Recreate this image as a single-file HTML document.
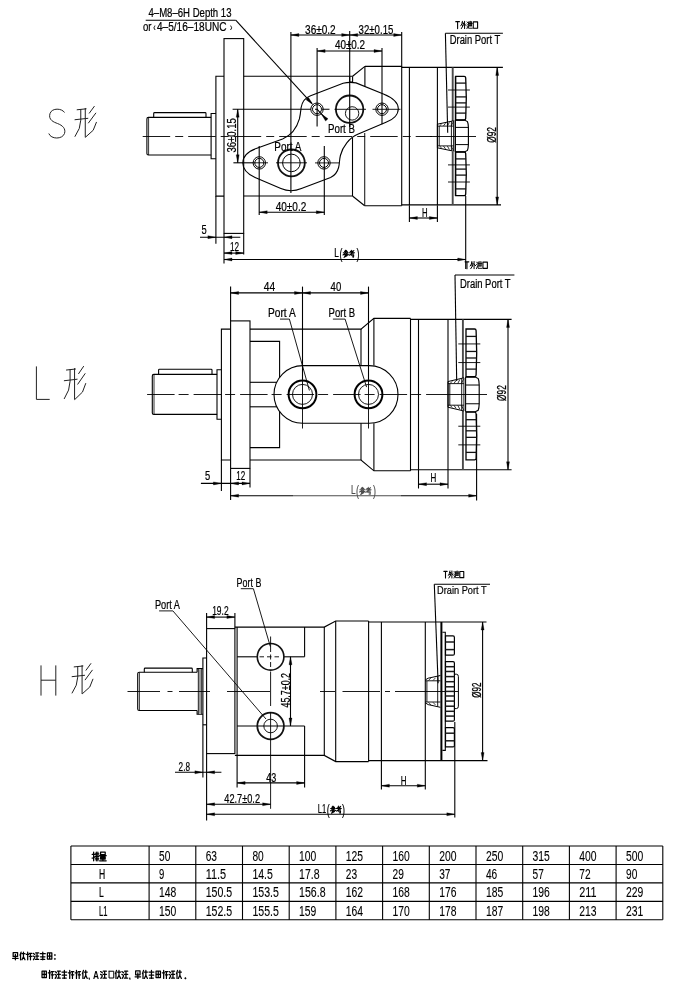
<!DOCTYPE html>
<html><head><meta charset="utf-8"><title>drawing</title>
<style>
html,body{margin:0;padding:0;background:#fff;}
body{width:700px;height:988px;overflow:hidden;}
svg{display:block;will-change:transform;filter:grayscale(1);font-family:"Liberation Sans",sans-serif;}
</style></head><body>
<svg width="700" height="988" viewBox="0 0 700 988" shape-rendering="geometricPrecision">
<rect x="0" y="0" width="700" height="988" fill="#fff"/>
<path d="M64.5 112.5 C62 108.3 52 107.5 50 113.5 C48 120 54 122.2 57.5 123.5 C62.5 125.4 66 128.5 64.5 133.5 C62.5 139.5 51 139.5 48.8 133.5" fill="none" stroke="#222" stroke-width="1" />
<path d="M77.14 109.77 L86.13 108.85 M75 119.71 L87.84 118.33 M80.78 109.46 L80.78 120.17 L79.28 128.43 L75 136.39 M85.27 108.39 L85.27 137 M94.26 106.4 L89.34 113.13 M95.76 113.13 L88.48 122.92 M96.4 122.31 L93.19 130.27 L85.7 137" fill="none" stroke="#222" stroke-width="1" stroke-linecap="round" stroke-linejoin="round"/>
<path d="M211.1 117.4 L148.4 117.4 Q146.9 117.4 146.9 118.9 L146.9 153.5 Q146.9 155.0 148.4 155.0 L211.1 155.0" fill="none" stroke="#000" stroke-width="1.1" />
<line x1="148.6" y1="117.4" x2="148.6" y2="155" stroke="#000" stroke-width="0.8"/>
<path d="M153.7 117.4 L153.7 113.4 Q153.7 112.6 154.6 112.6 L205.1 112.6 Q206 112.6 206 113.4 L206 117.4" fill="none" stroke="#000" stroke-width="1.1" />
<path d="M215.9 113.5 L211.1 113.5 L211.1 158.7 L215.9 158.7" fill="none" stroke="#000" stroke-width="1.1" />
<path d="M224 76.3 L215.9 76.3 L215.9 196.1 L224 196.1" fill="none" stroke="#000" stroke-width="1.1" />
<rect x="224" y="38.6" width="19.7" height="194.8" rx="0" fill="none" stroke="#000" stroke-width="1.1"/>
<line x1="243.7" y1="76.3" x2="352.6" y2="76.3" stroke="#000" stroke-width="1.1"/>
<line x1="243.7" y1="196" x2="352.5" y2="196" stroke="#000" stroke-width="1.1"/>
<path d="M349.7 76.3 L349.7 82 L352.6 82 L352.6 76.3" fill="none" stroke="#000" stroke-width="1.1" />
<line x1="352.6" y1="76.3" x2="364.9" y2="66.4" stroke="#000" stroke-width="1.1"/>
<line x1="364.9" y1="66.4" x2="401.7" y2="66.4" stroke="#000" stroke-width="1.1"/>
<line x1="401.7" y1="67.4" x2="502.9" y2="67.4" stroke="#000" stroke-width="1.1"/>
<line x1="364.9" y1="66.4" x2="364.9" y2="86.4" stroke="#000" stroke-width="1.1"/>
<line x1="352.5" y1="196" x2="364.7" y2="205.7" stroke="#000" stroke-width="1.1"/>
<line x1="352.5" y1="137.6" x2="352.5" y2="196" stroke="#000" stroke-width="1.1"/>
<line x1="364.7" y1="133" x2="364.7" y2="205.7" stroke="#222" stroke-width="1.1"/>
<line x1="364.7" y1="205.7" x2="401.7" y2="205.7" stroke="#000" stroke-width="1.1"/>
<line x1="401.7" y1="204.9" x2="501" y2="204.9" stroke="#000" stroke-width="1.1"/>
<line x1="401.7" y1="66.4" x2="401.7" y2="205.7" stroke="#000" stroke-width="1.1"/>
<line x1="409.4" y1="67.4" x2="409.4" y2="204.9" stroke="#000" stroke-width="1.1"/>
<line x1="437.4" y1="67.4" x2="437.4" y2="204.9" stroke="#000" stroke-width="1.1"/>
<line x1="452.7" y1="67.4" x2="452.7" y2="121" stroke="#4a4a4a" stroke-width="1.9"/>
<line x1="452.7" y1="151.6" x2="452.7" y2="204.9" stroke="#4a4a4a" stroke-width="1.9"/>
<line x1="455.3" y1="76.3" x2="455.3" y2="196" stroke="#000" stroke-width="1"/>
<line x1="142.7" y1="136.5" x2="432" y2="136.5" stroke="#000" stroke-width="0.9" stroke-dasharray="27.5 5 8 5"/>
<line x1="430" y1="136.5" x2="476" y2="136.5" stroke="#000" stroke-width="0.9"/>
<path d="M343.1 83.2 Q349.5 81.8 356 82.9 L383.4 94 C392 97.5 398.3 102 398.3 108.6 C398.3 115 393 120 386 122.3 L357.7 134.3 C349.5 137.8 342.6 146.5 340.4 155.5 C339.2 160.5 339.6 164 338.6 167.5 C337.4 172 334.8 175.6 330.6 177.4 L301.4 188.6 Q291.1 193 280.9 188.6 L255.1 177.4 C247.5 174 242.8 169 242.8 162.9 C242.8 156 248.5 151.2 256.9 148.3 L282.6 138.9 C291 135.5 296.5 129 299.4 118.9 C300.5 114 300.7 111 301.1 107.7 C302 101.5 305 97.8 310.6 95.7 Z" fill="none" stroke="#000" stroke-width="1.1" />
<circle cx="317" cy="109.2" r="6.2" fill="none" stroke="#000" stroke-width="1"/>
<circle cx="317" cy="109.2" r="4.5" fill="none" stroke="#000" stroke-width="1"/>
<circle cx="382" cy="109.2" r="6.2" fill="none" stroke="#000" stroke-width="1"/>
<circle cx="382" cy="109.2" r="4.5" fill="none" stroke="#000" stroke-width="1"/>
<circle cx="259.3" cy="162.9" r="6.2" fill="none" stroke="#000" stroke-width="1"/>
<circle cx="259.3" cy="162.9" r="4.5" fill="none" stroke="#000" stroke-width="1"/>
<circle cx="324" cy="162.9" r="6.2" fill="none" stroke="#000" stroke-width="1"/>
<circle cx="324" cy="162.9" r="4.5" fill="none" stroke="#000" stroke-width="1"/>
<circle cx="349.6" cy="109.2" r="13.7" fill="none" stroke="#111" stroke-width="1.8"/>
<circle cx="352.1" cy="113.4" r="6.7" fill="none" stroke="#000" stroke-width="0.9"/>
<circle cx="291.4" cy="162.9" r="13.4" fill="none" stroke="#111" stroke-width="1.8"/>
<circle cx="291.4" cy="162.9" r="8.8" fill="none" stroke="#000" stroke-width="1"/>
<line x1="232.6" y1="109.3" x2="302" y2="109.3" stroke="#000" stroke-width="1.1"/>
<line x1="302" y1="109.3" x2="329.5" y2="109.3" stroke="#000" stroke-width="1.1" stroke-dasharray="9 4 3 4"/>
<line x1="334.5" y1="109.3" x2="366" y2="109.3" stroke="#000" stroke-width="0.9"/>
<line x1="372.5" y1="109.3" x2="400.5" y2="109.3" stroke="#000" stroke-width="0.9"/>
<line x1="233.4" y1="162.8" x2="253" y2="162.8" stroke="#000" stroke-width="1.1"/>
<line x1="253" y1="162.8" x2="268" y2="162.8" stroke="#000" stroke-width="0.9"/>
<line x1="276" y1="162.8" x2="307" y2="162.8" stroke="#000" stroke-width="0.9"/>
<line x1="315" y1="162.9" x2="339.2" y2="162.9" stroke="#000" stroke-width="0.9"/>
<line x1="290.9" y1="32" x2="290.9" y2="193" stroke="#000" stroke-width="1.1"/>
<line x1="349.7" y1="31" x2="349.7" y2="127" stroke="#000" stroke-width="1.1"/>
<line x1="401.7" y1="32" x2="401.7" y2="67.2" stroke="#000" stroke-width="1.1"/>
<line x1="290.9" y1="35" x2="401.7" y2="35" stroke="#000" stroke-width="1.1"/>
<path d="M290.9 35 L298.9 33.5 L298.9 36.5 Z" fill="#000" stroke="#000" stroke-width="0.3"/>
<path d="M349.7 35 L341.7 36.5 L341.7 33.5 Z" fill="#000" stroke="#000" stroke-width="0.3"/>
<path d="M349.7 35 L357.7 33.5 L357.7 36.5 Z" fill="#000" stroke="#000" stroke-width="0.3"/>
<path d="M401.7 35 L393.7 36.5 L393.7 33.5 Z" fill="#000" stroke="#000" stroke-width="0.3"/>
<text x="305.1" y="33.6" font-size="12.2" textLength="30.6" lengthAdjust="spacingAndGlyphs" stroke="#000" stroke-width="0.22">36±0.2</text>
<text x="358.6" y="33.6" font-size="12.2" textLength="34.8" lengthAdjust="spacingAndGlyphs" stroke="#000" stroke-width="0.22">32±0.15</text>
<line x1="317.1" y1="48" x2="317.1" y2="126.4" stroke="#000" stroke-width="1.1"/>
<line x1="382" y1="48" x2="382" y2="124.3" stroke="#000" stroke-width="1.1"/>
<line x1="317.1" y1="51" x2="382" y2="51" stroke="#000" stroke-width="1.1"/>
<path d="M317.1 51 L325.1 49.5 L325.1 52.5 Z" fill="#000" stroke="#000" stroke-width="0.3"/>
<path d="M382 51 L374 52.5 L374 49.5 Z" fill="#000" stroke="#000" stroke-width="0.3"/>
<text x="334.9" y="49.2" font-size="12.2" textLength="30.2" lengthAdjust="spacingAndGlyphs" stroke="#000" stroke-width="0.22">40±0.2</text>
<line x1="237.7" y1="109.2" x2="237.7" y2="162.8" stroke="#000" stroke-width="1.1"/>
<path d="M237.7 109.2 L239.2 117.2 L236.2 117.2 Z" fill="#000" stroke="#000" stroke-width="0.3"/>
<path d="M237.7 162.8 L236.2 154.8 L239.2 154.8 Z" fill="#000" stroke="#000" stroke-width="0.3"/>
<text x="235.8" y="152.6" font-size="12.2" textLength="34.5" lengthAdjust="spacingAndGlyphs" transform="rotate(-90 235.8 152.6)" stroke="#000" stroke-width="0.22">36±0.15</text>
<line x1="259.2" y1="146" x2="259.2" y2="215" stroke="#000" stroke-width="1.1"/>
<line x1="324.3" y1="146" x2="324.3" y2="215" stroke="#000" stroke-width="1.1"/>
<line x1="259.2" y1="212.2" x2="324.3" y2="212.2" stroke="#000" stroke-width="1.1"/>
<path d="M259.2 212.2 L267.2 210.7 L267.2 213.7 Z" fill="#000" stroke="#000" stroke-width="0.3"/>
<path d="M324.3 212.2 L316.3 213.7 L316.3 210.7 Z" fill="#000" stroke="#000" stroke-width="0.3"/>
<text x="275.7" y="211.4" font-size="12.2" textLength="30.6" lengthAdjust="spacingAndGlyphs" stroke="#000" stroke-width="0.22">40±0.2</text>
<line x1="215.9" y1="196.1" x2="215.9" y2="243.7" stroke="#000" stroke-width="1.1"/>
<line x1="224" y1="233.4" x2="224" y2="263.4" stroke="#000" stroke-width="1.1"/>
<line x1="243.7" y1="233.4" x2="243.7" y2="254.5" stroke="#000" stroke-width="1.1"/>
<line x1="200" y1="237.2" x2="240.3" y2="237.2" stroke="#000" stroke-width="1.1"/>
<path d="M215.9 237.2 L207.9 238.7 L207.9 235.7 Z" fill="#000" stroke="#000" stroke-width="0.3"/>
<path d="M224 237.2 L232 235.7 L232 238.7 Z" fill="#000" stroke="#000" stroke-width="0.3"/>
<text x="201.4" y="234.3" font-size="12.2" textLength="5.2" lengthAdjust="spacingAndGlyphs" stroke="#000" stroke-width="0.22">5</text>
<line x1="224" y1="253.1" x2="243.7" y2="253.1" stroke="#000" stroke-width="1.1"/>
<path d="M224 253.1 L232 251.6 L232 254.6 Z" fill="#000" stroke="#000" stroke-width="0.3"/>
<path d="M243.7 253.1 L235.7 254.6 L235.7 251.6 Z" fill="#000" stroke="#000" stroke-width="0.3"/>
<text x="230" y="250.6" font-size="12.2" textLength="9.1" lengthAdjust="spacingAndGlyphs" stroke="#000" stroke-width="0.22">12</text>
<line x1="224" y1="259.5" x2="465.7" y2="259.5" stroke="#000" stroke-width="1.1"/>
<path d="M224 259.5 L232 258 L232 261 Z" fill="#000" stroke="#000" stroke-width="0.3"/>
<path d="M465.7 259.5 L457.7 261 L457.7 258 Z" fill="#000" stroke="#000" stroke-width="0.3"/>
<line x1="465.7" y1="196" x2="465.7" y2="269" stroke="#000" stroke-width="1.1"/>
<text x="334.3" y="257.3" font-size="12.2" textLength="4.6" lengthAdjust="spacingAndGlyphs" stroke="#000" stroke-width="0.22">L</text>
<text x="339.4" y="258.6" font-size="14" textLength="3" lengthAdjust="spacingAndGlyphs" stroke="#000" stroke-width="0.22">(</text>
<path d="M345.73 250.2 L344.53 251.5 L346.93 251.35 M346.38 250.63 L347.36 251.78 M343.27 252.65 L348.18 252.65 M345.84 251.64 L344.64 253.8 L343 254.95 M345.84 252.65 L347.25 254.09 L348.45 254.66 M346.38 253.66 L344.85 254.81 M346.82 254.66 L344.64 256.1 M347.36 255.53 L344.09 257.4" fill="none" stroke="#000" stroke-width="1.05" stroke-linecap="round" stroke-linejoin="round"/>
<path d="M350.24 251.35 L353.07 251.35 M351.66 250.2 L351.66 252.65 M349.26 252.65 L354.49 252.65 M353.84 250.49 L351.11 253.94 L349.26 255.24 M351.11 253.94 L353.73 253.94 M351.33 253.94 L351.11 255.24 L353.73 255.24 L353.51 257.26 L352.42 256.82" fill="none" stroke="#000" stroke-width="1.05" stroke-linecap="round" stroke-linejoin="round"/>
<text x="356.4" y="258.6" font-size="14" textLength="3" lengthAdjust="spacingAndGlyphs" stroke="#000" stroke-width="0.22">)</text>
<line x1="409.4" y1="205.2" x2="409.4" y2="222" stroke="#000" stroke-width="1.1"/>
<line x1="437.4" y1="205.2" x2="437.4" y2="222" stroke="#000" stroke-width="1.1"/>
<line x1="409.4" y1="218" x2="437.4" y2="218" stroke="#000" stroke-width="1.1"/>
<path d="M409.4 218 L417.4 216.5 L417.4 219.5 Z" fill="#000" stroke="#000" stroke-width="0.3"/>
<path d="M437.4 218 L429.4 219.5 L429.4 216.5 Z" fill="#000" stroke="#000" stroke-width="0.3"/>
<text x="422" y="216.6" font-size="12.2" textLength="5.6" lengthAdjust="spacingAndGlyphs" stroke="#000" stroke-width="0.22">H</text>
<line x1="497.2" y1="67.4" x2="497.2" y2="204.9" stroke="#000" stroke-width="1.1"/>
<path d="M497.2 67.4 L498.7 75.4 L495.7 75.4 Z" fill="#000" stroke="#000" stroke-width="0.3"/>
<path d="M497.2 204.9 L495.7 196.9 L498.7 196.9 Z" fill="#000" stroke="#000" stroke-width="0.3"/>
<text x="496.4" y="142.8" font-size="12" textLength="15.8" lengthAdjust="spacingAndGlyphs" transform="rotate(-90 496.4 142.8)" stroke="#000" stroke-width="0.3">Ø92</text>
<text x="148.5" y="17.2" font-size="12" textLength="83" lengthAdjust="spacingAndGlyphs" stroke="#000" stroke-width="0.22">4–M8–6H Depth 13</text>
<text x="143" y="31" font-size="12.2" textLength="8.5" lengthAdjust="spacingAndGlyphs" stroke="#000" stroke-width="0.22">or</text>
<text x="153.3" y="30.5" font-size="10" textLength="2.4" lengthAdjust="spacingAndGlyphs" stroke="#000" stroke-width="0.22">‹</text>
<text x="157" y="31" font-size="12.2" textLength="69.5" lengthAdjust="spacingAndGlyphs" stroke="#000" stroke-width="0.22">4–5/16–18UNC</text>
<text x="230" y="30.5" font-size="10" textLength="2.4" lengthAdjust="spacingAndGlyphs" stroke="#000" stroke-width="0.22">›</text>
<line x1="145.7" y1="20.2" x2="235.7" y2="20.2" stroke="#000" stroke-width="1.1"/>
<line x1="235.7" y1="20.2" x2="311.8" y2="103.4" stroke="#000" stroke-width="1.1"/>
<path d="M313 104.8 L306.01 99.67 L308.52 97.38 Z" fill="#000" stroke="#000" stroke-width="0.3"/>
<line x1="317" y1="109.2" x2="326.8" y2="119.9" stroke="#000" stroke-width="1.1"/>
<path d="M321.4 114 L328.05 118.76 L325.54 121.05 Z" fill="#000" stroke="#000" stroke-width="0.3"/>
<text x="328" y="132.6" font-size="12.5" textLength="27" lengthAdjust="spacingAndGlyphs" stroke="#000" stroke-width="0.22">Port B</text>
<text x="274.3" y="151.2" font-size="12.5" textLength="27.1" lengthAdjust="spacingAndGlyphs" stroke="#000" stroke-width="0.22">Port A</text>
<path d="M455.76 21.66 L459.44 21.66 M457.6 21.66 L457.6 28.6" fill="none" stroke="#000" stroke-width="1.1" stroke-linecap="round" stroke-linejoin="round"/>
<path d="M462.4 21.3 L461.96 23.86 L460.76 25.83 M462.13 22.91 L463.6 22.91 L462.95 25.83 L461.31 28.6 M461.75 24.59 L462.84 25.68 M464.59 21.3 L464.59 28.6 M464.59 24.22 L466.22 25.53" fill="none" stroke="#000" stroke-width="1" stroke-linecap="round" stroke-linejoin="round"/>
<path d="M467.07 21.88 L467.78 22.76 M466.8 24.07 L467.56 24.8 M466.91 28.6 L467.89 26.12 M468.44 23.49 L472.26 23.49 M469.31 21.66 L469.31 25.83 M470.41 21.3 L470.41 25.83 M471.5 21.66 L471.5 25.83 M469.31 25.83 L471.5 25.83 M468.44 22.03 L468.44 28.23 L472.26 28.23" fill="none" stroke="#000" stroke-width="0.9" stroke-linecap="round" stroke-linejoin="round"/>
<path d="M473.25 21.88 L477.6 21.88 L477.6 28.23 L473.25 28.23 L473.25 21.88" fill="none" stroke="#000" stroke-width="1.1" stroke-linecap="round" stroke-linejoin="round"/>
<line x1="445.4" y1="33.2" x2="502.9" y2="33.2" stroke="#000" stroke-width="1.1"/>
<line x1="445.4" y1="33.2" x2="447.7" y2="132.8" stroke="#000" stroke-width="1.1"/>
<text x="449.7" y="43.6" font-size="12" textLength="50.6" lengthAdjust="spacingAndGlyphs" stroke="#000" stroke-width="0.22">Drain Port T</text>
<path d="M455.7 76.3 L464.2 76.3 Q465.6 76.3 465.7 77.9 Q466.9 98.15 465.7 118.4 Q465.6 120 464.2 120 L455.7 120 Z" fill="none" stroke="#000" stroke-width="1.3" />
<line x1="455.7" y1="83.1" x2="466.1" y2="83.1" stroke="#111" stroke-width="1.3"/>
<line x1="455.7" y1="96.9" x2="466.1" y2="96.9" stroke="#111" stroke-width="1.3"/>
<line x1="455.7" y1="102.9" x2="466.1" y2="102.9" stroke="#111" stroke-width="1.3"/>
<line x1="455.7" y1="113.1" x2="466.1" y2="113.1" stroke="#111" stroke-width="1.3"/>
<line x1="448" y1="90" x2="469.9" y2="90" stroke="#000" stroke-width="0.9"/>
<line x1="448" y1="107.1" x2="469.9" y2="107.1" stroke="#000" stroke-width="0.9"/>
<path d="M455.7 152 L464.2 152 Q465.6 152 465.7 153.6 Q466.9 173.85 465.7 194.1 Q465.6 195.7 464.2 195.7 L455.7 195.7 Z" fill="none" stroke="#000" stroke-width="1.3" />
<line x1="455.7" y1="188.9" x2="466.1" y2="188.9" stroke="#111" stroke-width="1.3"/>
<line x1="455.7" y1="175.1" x2="466.1" y2="175.1" stroke="#111" stroke-width="1.3"/>
<line x1="455.7" y1="169.1" x2="466.1" y2="169.1" stroke="#111" stroke-width="1.3"/>
<line x1="455.7" y1="158.9" x2="466.1" y2="158.9" stroke="#111" stroke-width="1.3"/>
<line x1="448" y1="182" x2="469.9" y2="182" stroke="#000" stroke-width="0.9"/>
<line x1="448" y1="164.9" x2="469.9" y2="164.9" stroke="#000" stroke-width="0.9"/>
<path d="M455.3 120.1 L464.5 120.1 L467.4 121.6 Q468.3 123.6 468.4 127.4 L468.4 144.6 Q468.3 148.4 467.4 150.4 L464.5 151.9 L455.3 151.9" fill="none" stroke="#000" stroke-width="1.15" />
<line x1="455.3" y1="120.1" x2="455.3" y2="151.9" stroke="#000" stroke-width="1.1"/>
<line x1="455.3" y1="127.4" x2="468.4" y2="127.4" stroke="#000" stroke-width="1"/>
<line x1="455.3" y1="144.6" x2="468.4" y2="144.6" stroke="#000" stroke-width="1"/>
<path d="M437.4 124.2 L453.6 120.8" fill="none" stroke="#000" stroke-width="1" />
<path d="M437.4 147.8 L453.6 151.2" fill="none" stroke="#000" stroke-width="1" />
<line x1="437.4" y1="124.2" x2="437.4" y2="147.8" stroke="#000" stroke-width="1"/>
<line x1="437.4" y1="126.1" x2="453.6" y2="126.1" stroke="#000" stroke-width="0.9"/>
<line x1="437.4" y1="145.9" x2="453.6" y2="145.9" stroke="#000" stroke-width="0.9"/>
<line x1="439.2" y1="126.1" x2="439.2" y2="145.9" stroke="#000" stroke-width="0.9"/>
<line x1="451.4" y1="121.2" x2="451.4" y2="150.8" stroke="#000" stroke-width="0.9"/>
<line x1="453.6" y1="120.8" x2="453.6" y2="151.2" stroke="#000" stroke-width="0.9"/>
<line x1="439.6" y1="125.9" x2="441.6" y2="124.04" stroke="#000" stroke-width="0.8"/>
<line x1="439.6" y1="146.1" x2="441.6" y2="147.96" stroke="#000" stroke-width="0.8"/>
<line x1="443.5" y1="125.9" x2="445.5" y2="123.22" stroke="#000" stroke-width="0.8"/>
<line x1="443.5" y1="146.1" x2="445.5" y2="148.78" stroke="#000" stroke-width="0.8"/>
<line x1="447.4" y1="125.9" x2="449.4" y2="122.4" stroke="#000" stroke-width="0.8"/>
<line x1="447.4" y1="146.1" x2="449.4" y2="149.6" stroke="#000" stroke-width="0.8"/>
<line x1="451.3" y1="125.9" x2="453.3" y2="121.58" stroke="#000" stroke-width="0.8"/>
<line x1="451.3" y1="146.1" x2="453.3" y2="150.42" stroke="#000" stroke-width="0.8"/>
<path d="M36.4 366.4 L36.4 399.4 L49.7 399.4" fill="none" stroke="#222" stroke-width="1" />
<path d="M66.44 370.02 L75.43 369.03 M64.3 380.71 L77.14 379.23 M70.08 369.69 L70.08 381.2 L68.58 390.09 L64.3 398.64 M74.57 368.54 L74.57 399.3 M83.56 366.4 L78.64 373.64 M85.06 373.64 L77.78 384.17 M85.7 383.51 L82.49 392.06 L75 399.3" fill="none" stroke="#222" stroke-width="1" stroke-linecap="round" stroke-linejoin="round"/>
<path d="M217.1 374.4 L153.8 374.4 Q152.3 374.4 152.3 375.9 L152.3 412.9 Q152.3 414.4 153.8 414.4 L217.1 414.4" fill="none" stroke="#000" stroke-width="1.1" />
<line x1="154" y1="374.4" x2="154" y2="414.4" stroke="#000" stroke-width="0.8"/>
<path d="M158.6 374.4 L158.6 370 Q158.6 369.2 159.5 369.2 L211.1 369.2 Q212 369.2 212 370 L212 374.4" fill="none" stroke="#000" stroke-width="1.1" />
<path d="M221.4 369.8 L217 369.8 L217 419.3 L221.4 419.3" fill="none" stroke="#000" stroke-width="1.1" />
<path d="M230.6 329.1 L221.4 329.1 L221.4 460 L230.6 460" fill="none" stroke="#000" stroke-width="1.1" />
<rect x="230.6" y="320.9" width="19.4" height="147.5" rx="0" fill="none" stroke="#000" stroke-width="1.1"/>
<path d="M250 329.1 L361 329.1 L373.9 318.4 L410.5 318.4" fill="none" stroke="#000" stroke-width="1.1" />
<line x1="410.5" y1="319.4" x2="511.6" y2="319.4" stroke="#000" stroke-width="1.1"/>
<path d="M250 460 L361 460 L373.9 470.8 L410.5 470.8" fill="none" stroke="#000" stroke-width="1.1" />
<line x1="410.5" y1="469.8" x2="511.6" y2="469.8" stroke="#000" stroke-width="1.1"/>
<path d="M250 341.4 L279.6 341.4 L279.6 377.5" fill="none" stroke="#000" stroke-width="1.1" />
<path d="M250 447.6 L279.6 447.6 L279.6 411.5" fill="none" stroke="#000" stroke-width="1.1" />
<line x1="250" y1="382.3" x2="276.8" y2="382.3" stroke="#000" stroke-width="1.1"/>
<line x1="250" y1="406.8" x2="276.8" y2="406.8" stroke="#000" stroke-width="1.1"/>
<path d="M302.8 365.6 L369.2 365.6 A28.8 28.8 0 0 1 369.2 423.2 L302.8 423.2 A28.8 28.8 0 0 1 302.8 365.6 Z" fill="none" stroke="#000" stroke-width="1.1" />
<line x1="361" y1="329.1" x2="361" y2="365.6" stroke="#000" stroke-width="1.1"/>
<line x1="361" y1="423.2" x2="361" y2="460" stroke="#000" stroke-width="1.1"/>
<line x1="373.9" y1="318.4" x2="373.9" y2="365.6" stroke="#000" stroke-width="1.1"/>
<line x1="373.9" y1="423.2" x2="373.9" y2="470.8" stroke="#000" stroke-width="1.1"/>
<line x1="410.5" y1="318.4" x2="410.5" y2="470.8" stroke="#000" stroke-width="1.1"/>
<line x1="418.5" y1="319.4" x2="418.5" y2="469.8" stroke="#000" stroke-width="1.1"/>
<line x1="448" y1="319.4" x2="448" y2="469.8" stroke="#000" stroke-width="1.1"/>
<line x1="462.9" y1="319.4" x2="462.9" y2="378" stroke="#4a4a4a" stroke-width="1.9"/>
<line x1="462.9" y1="411" x2="462.9" y2="469.8" stroke="#4a4a4a" stroke-width="1.9"/>
<circle cx="302.5" cy="394.4" r="13.9" fill="none" stroke="#000" stroke-width="2"/>
<circle cx="302.5" cy="394.4" r="10" fill="none" stroke="#000" stroke-width="0.9"/>
<line x1="302.5" y1="379" x2="302.5" y2="428.5" stroke="#000" stroke-width="0.9"/>
<circle cx="368.5" cy="394.4" r="13.9" fill="none" stroke="#000" stroke-width="2"/>
<circle cx="368.5" cy="394.4" r="10" fill="none" stroke="#000" stroke-width="0.9"/>
<line x1="368.5" y1="379" x2="368.5" y2="428.5" stroke="#000" stroke-width="0.9"/>
<line x1="147.1" y1="394.5" x2="440" y2="394.5" stroke="#000" stroke-width="0.9" stroke-dasharray="27.5 4 10 5"/>
<line x1="440" y1="394.5" x2="487" y2="394.5" stroke="#000" stroke-width="0.9"/>
<line x1="230.6" y1="286.6" x2="230.6" y2="320.9" stroke="#000" stroke-width="1.1"/>
<line x1="302.5" y1="286.6" x2="302.5" y2="379" stroke="#000" stroke-width="1.1"/>
<line x1="368.5" y1="286.6" x2="368.5" y2="379" stroke="#000" stroke-width="1.1"/>
<line x1="230.6" y1="292.9" x2="368.5" y2="292.9" stroke="#000" stroke-width="1.1"/>
<path d="M230.6 292.9 L238.6 291.4 L238.6 294.4 Z" fill="#000" stroke="#000" stroke-width="0.3"/>
<path d="M302.5 292.9 L294.5 294.4 L294.5 291.4 Z" fill="#000" stroke="#000" stroke-width="0.3"/>
<path d="M302.5 292.9 L310.5 291.4 L310.5 294.4 Z" fill="#000" stroke="#000" stroke-width="0.3"/>
<path d="M368.5 292.9 L360.5 294.4 L360.5 291.4 Z" fill="#000" stroke="#000" stroke-width="0.3"/>
<text x="263.7" y="291.2" font-size="12" textLength="11.4" lengthAdjust="spacingAndGlyphs" stroke="#000" stroke-width="0.22">44</text>
<text x="330.6" y="291.2" font-size="12" textLength="10.6" lengthAdjust="spacingAndGlyphs" stroke="#000" stroke-width="0.22">40</text>
<text x="268" y="316.6" font-size="12.5" textLength="27.7" lengthAdjust="spacingAndGlyphs" stroke="#000" stroke-width="0.22">Port A</text>
<path d="M280 319.1 L289.4 319.1 L309.4 390.5" fill="none" stroke="#000" stroke-width="0.9" />
<text x="328.6" y="316.6" font-size="12.5" textLength="26.5" lengthAdjust="spacingAndGlyphs" stroke="#000" stroke-width="0.22">Port B</text>
<path d="M332.9 319.1 L345.1 319.1 L366.6 387.1" fill="none" stroke="#000" stroke-width="0.9" />
<line x1="221.4" y1="460" x2="221.4" y2="491" stroke="#000" stroke-width="1.1"/>
<line x1="230.6" y1="468.4" x2="230.6" y2="500" stroke="#000" stroke-width="1.1"/>
<line x1="250" y1="468.4" x2="250" y2="487.5" stroke="#000" stroke-width="1.1"/>
<line x1="200.9" y1="483.4" x2="250" y2="483.4" stroke="#000" stroke-width="1.1"/>
<path d="M221.4 483.4 L213.4 484.9 L213.4 481.9 Z" fill="#000" stroke="#000" stroke-width="0.3"/>
<path d="M230.6 483.4 L238.6 481.9 L238.6 484.9 Z" fill="#000" stroke="#000" stroke-width="0.3"/>
<path d="M250 483.4 L242 484.9 L242 481.9 Z" fill="#000" stroke="#000" stroke-width="0.3"/>
<text x="204.9" y="480.2" font-size="12.2" textLength="5.2" lengthAdjust="spacingAndGlyphs" stroke="#000" stroke-width="0.22">5</text>
<text x="236.3" y="480.4" font-size="12.2" textLength="9" lengthAdjust="spacingAndGlyphs" stroke="#000" stroke-width="0.22">12</text>
<line x1="230.6" y1="495.7" x2="476.6" y2="495.7" stroke="#000" stroke-width="1.1"/>
<path d="M230.6 495.7 L238.6 494.2 L238.6 497.2 Z" fill="#000" stroke="#000" stroke-width="0.3"/>
<path d="M476.6 495.7 L468.6 497.2 L468.6 494.2 Z" fill="#000" stroke="#000" stroke-width="0.3"/>
<line x1="476.6" y1="414" x2="476.6" y2="500.5" stroke="#000" stroke-width="1.1"/>
<text x="350.9" y="494.4" font-size="12.2" textLength="4.6" lengthAdjust="spacingAndGlyphs" stroke="#000" stroke-width="0.22">L</text>
<text x="356" y="495.7" font-size="14" textLength="3" lengthAdjust="spacingAndGlyphs" stroke="#000" stroke-width="0.22">(</text>
<path d="M362.33 487.3 L361.13 488.6 L363.53 488.45 M362.98 487.73 L363.96 488.88 M359.87 489.75 L364.78 489.75 M362.44 488.74 L361.24 490.9 L359.6 492.05 M362.44 489.75 L363.85 491.19 L365.05 491.76 M362.98 490.76 L361.45 491.91 M363.42 491.76 L361.24 493.2 M363.96 492.63 L360.69 494.5" fill="none" stroke="#000" stroke-width="1.05" stroke-linecap="round" stroke-linejoin="round"/>
<path d="M366.84 488.45 L369.67 488.45 M368.26 487.3 L368.26 489.75 M365.86 489.75 L371.09 489.75 M370.44 487.59 L367.71 491.04 L365.86 492.34 M367.71 491.04 L370.33 491.04 M367.93 491.04 L367.71 492.34 L370.33 492.34 L370.11 494.36 L369.02 493.92" fill="none" stroke="#000" stroke-width="1.05" stroke-linecap="round" stroke-linejoin="round"/>
<text x="373" y="495.7" font-size="14" textLength="3" lengthAdjust="spacingAndGlyphs" stroke="#000" stroke-width="0.22">)</text>
<rect x="293" y="479" width="108" height="21" fill="#fff" opacity="0.3"/>
<line x1="418.5" y1="469.8" x2="418.5" y2="488.5" stroke="#000" stroke-width="1.1"/>
<line x1="448" y1="469.8" x2="448" y2="488.5" stroke="#000" stroke-width="1.1"/>
<line x1="418.5" y1="484.2" x2="448" y2="484.2" stroke="#000" stroke-width="1.1"/>
<path d="M418.5 484.2 L426.5 482.7 L426.5 485.7 Z" fill="#000" stroke="#000" stroke-width="0.3"/>
<path d="M448 484.2 L440 485.7 L440 482.7 Z" fill="#000" stroke="#000" stroke-width="0.3"/>
<text x="430.5" y="482.3" font-size="12.2" textLength="5.8" lengthAdjust="spacingAndGlyphs" stroke="#000" stroke-width="0.22">H</text>
<line x1="508" y1="319.4" x2="508" y2="469.8" stroke="#000" stroke-width="1.1"/>
<path d="M508 319.4 L509.5 327.4 L506.5 327.4 Z" fill="#000" stroke="#000" stroke-width="0.3"/>
<path d="M508 469.8 L506.5 461.8 L509.5 461.8 Z" fill="#000" stroke="#000" stroke-width="0.3"/>
<text x="506.3" y="401" font-size="12" textLength="15.8" lengthAdjust="spacingAndGlyphs" transform="rotate(-90 506.3 401)" stroke="#000" stroke-width="0.3">Ø92</text>
<path d="M465.07 261.86 L468.83 261.86 M466.95 261.86 L466.95 268.7" fill="none" stroke="#000" stroke-width="1.1" stroke-linecap="round" stroke-linejoin="round"/>
<path d="M471.86 261.5 L471.41 264.02 L470.18 265.96 M471.58 263.08 L473.08 263.08 L472.41 265.96 L470.74 268.7 M471.19 264.74 L472.3 265.82 M474.09 261.5 L474.09 268.7 M474.09 264.38 L475.76 265.68" fill="none" stroke="#000" stroke-width="1" stroke-linecap="round" stroke-linejoin="round"/>
<path d="M476.63 262.08 L477.35 262.94 M476.35 264.24 L477.13 264.96 M476.46 268.7 L477.47 266.25 M478.02 263.66 L481.93 263.66 M478.92 261.86 L478.92 265.96 M480.03 261.5 L480.03 265.96 M481.15 261.86 L481.15 265.96 M478.92 265.96 L481.15 265.96 M478.02 262.22 L478.02 268.34 L481.93 268.34" fill="none" stroke="#000" stroke-width="0.9" stroke-linecap="round" stroke-linejoin="round"/>
<path d="M482.94 262.08 L487.38 262.08 L487.38 268.34 L482.94 268.34 L482.94 262.08" fill="none" stroke="#000" stroke-width="1.1" stroke-linecap="round" stroke-linejoin="round"/>
<line x1="455" y1="275" x2="514.4" y2="275" stroke="#000" stroke-width="1.1"/>
<line x1="455" y1="275" x2="456.7" y2="381" stroke="#000" stroke-width="1.1"/>
<text x="460" y="287.5" font-size="12" textLength="50.6" lengthAdjust="spacingAndGlyphs" stroke="#000" stroke-width="0.22">Drain Port T</text>
<path d="M466 329 L474.6 329 Q476 329 476.1 330.6 Q477.3 352.82 476.1 375.03 Q476 376.63 474.6 376.63 L466 376.63 Z" fill="none" stroke="#000" stroke-width="1.3" />
<line x1="466" y1="336.41" x2="476.5" y2="336.41" stroke="#111" stroke-width="1.3"/>
<line x1="466" y1="351.45" x2="476.5" y2="351.45" stroke="#111" stroke-width="1.3"/>
<line x1="466" y1="357.99" x2="476.5" y2="357.99" stroke="#111" stroke-width="1.3"/>
<line x1="466" y1="369.11" x2="476.5" y2="369.11" stroke="#111" stroke-width="1.3"/>
<line x1="458.3" y1="343.93" x2="480.3" y2="343.93" stroke="#000" stroke-width="0.9"/>
<line x1="458.3" y1="362.57" x2="480.3" y2="362.57" stroke="#000" stroke-width="0.9"/>
<path d="M466 412.17 L474.6 412.17 Q476 412.17 476.1 413.77 Q477.3 435.98 476.1 458.2 Q476 459.8 474.6 459.8 L466 459.8 Z" fill="none" stroke="#000" stroke-width="1.3" />
<line x1="466" y1="452.39" x2="476.5" y2="452.39" stroke="#111" stroke-width="1.3"/>
<line x1="466" y1="437.35" x2="476.5" y2="437.35" stroke="#111" stroke-width="1.3"/>
<line x1="466" y1="430.81" x2="476.5" y2="430.81" stroke="#111" stroke-width="1.3"/>
<line x1="466" y1="419.69" x2="476.5" y2="419.69" stroke="#111" stroke-width="1.3"/>
<line x1="458.3" y1="444.87" x2="480.3" y2="444.87" stroke="#000" stroke-width="0.9"/>
<line x1="458.3" y1="426.23" x2="480.3" y2="426.23" stroke="#000" stroke-width="0.9"/>
<path d="M465.6 377.07 L475.3 377.07 L478.2 378.57 Q479.1 380.57 479.2 385.03 L479.2 403.77 Q479.1 408.23 478.2 410.23 L475.3 411.73 L465.6 411.73" fill="none" stroke="#000" stroke-width="1.15" />
<line x1="465.6" y1="377.07" x2="465.6" y2="411.73" stroke="#000" stroke-width="1.1"/>
<line x1="465.6" y1="385.03" x2="479.2" y2="385.03" stroke="#000" stroke-width="1"/>
<line x1="465.6" y1="403.77" x2="479.2" y2="403.77" stroke="#000" stroke-width="1"/>
<path d="M448 381.54 L463.9 377.83" fill="none" stroke="#000" stroke-width="1" />
<path d="M448 407.26 L463.9 410.97" fill="none" stroke="#000" stroke-width="1" />
<line x1="448" y1="381.54" x2="448" y2="407.26" stroke="#000" stroke-width="1"/>
<line x1="448" y1="383.61" x2="463.9" y2="383.61" stroke="#000" stroke-width="0.9"/>
<line x1="448" y1="405.19" x2="463.9" y2="405.19" stroke="#000" stroke-width="0.9"/>
<line x1="449.8" y1="383.61" x2="449.8" y2="405.19" stroke="#000" stroke-width="0.9"/>
<line x1="461.7" y1="378.23" x2="461.7" y2="410.57" stroke="#000" stroke-width="0.9"/>
<line x1="463.9" y1="377.83" x2="463.9" y2="410.97" stroke="#000" stroke-width="0.9"/>
<line x1="450.2" y1="383.41" x2="452.2" y2="381.33" stroke="#000" stroke-width="0.8"/>
<line x1="450.2" y1="405.39" x2="452.2" y2="407.47" stroke="#000" stroke-width="0.8"/>
<line x1="454" y1="383.41" x2="456" y2="380.44" stroke="#000" stroke-width="0.8"/>
<line x1="454" y1="405.39" x2="456" y2="408.36" stroke="#000" stroke-width="0.8"/>
<line x1="457.8" y1="383.41" x2="459.8" y2="379.55" stroke="#000" stroke-width="0.8"/>
<line x1="457.8" y1="405.39" x2="459.8" y2="409.25" stroke="#000" stroke-width="0.8"/>
<line x1="461.6" y1="383.41" x2="463.6" y2="378.67" stroke="#000" stroke-width="0.8"/>
<line x1="461.6" y1="405.39" x2="463.6" y2="410.13" stroke="#000" stroke-width="0.8"/>
<path d="M41 665.4 L41 695.6 M55.8 665.4 L55.8 695.6 M41 680.2 L55.8 680.2" fill="none" stroke="#222" stroke-width="1" />
<path d="M74.18 666.9 L82.92 666 M72.1 676.65 L84.58 675.3 M77.72 666.6 L77.72 677.1 L76.26 685.2 L72.1 693 M82.08 665.55 L82.08 693.6 M90.82 663.6 L86.04 670.2 M92.28 670.2 L85.2 679.8 M92.9 679.2 L89.78 687 L82.5 693.6" fill="none" stroke="#222" stroke-width="1" stroke-linecap="round" stroke-linejoin="round"/>
<path d="M197.1 672.3 L139.2 672.3 Q137.7 672.3 137.7 673.8 L137.7 709 Q137.7 710.5 139.2 710.5 L197.1 710.5" fill="none" stroke="#000" stroke-width="1.1" />
<line x1="139.4" y1="672.3" x2="139.4" y2="710.5" stroke="#000" stroke-width="0.8"/>
<path d="M144.3 672.3 L144.3 668.9 Q144.3 668.1 145.2 668.1 L191.4 668.1 Q192.3 668.1 192.3 668.9 L192.3 672.3" fill="none" stroke="#000" stroke-width="1.1" />
<path d="M197.1 672.3 L197.1 668.6 L202.9 668.6" fill="none" stroke="#000" stroke-width="1.1" />
<path d="M197.1 710.5 L197.1 714.3 L202.9 714.3" fill="none" stroke="#000" stroke-width="1.1" />
<rect x="198.3" y="669.2" width="3.3" height="44.5" rx="0" fill="#9c9c9c" stroke="none" stroke-width="0"/>
<line x1="198.3" y1="668.6" x2="198.3" y2="714.3" stroke="#000" stroke-width="0.8"/>
<line x1="201.6" y1="668.6" x2="201.6" y2="714.3" stroke="#000" stroke-width="0.7"/>
<line x1="202.9" y1="724.8" x2="206.6" y2="724.8" stroke="#000" stroke-width="1.1"/>
<path d="M206.6 658 L202.9 658 L202.9 777.5" fill="none" stroke="#000" stroke-width="1.1" />
<rect x="206.6" y="628.6" width="28.3" height="125" rx="0" fill="none" stroke="#000" stroke-width="1.1"/>
<line x1="237.1" y1="627.1" x2="237.1" y2="755.4" stroke="#000" stroke-width="1.1"/>
<path d="M234.9 627.1 L324.3 627.1 L335.7 621 L368.6 621" fill="none" stroke="#000" stroke-width="1.1" />
<line x1="368.6" y1="622" x2="486.5" y2="622" stroke="#000" stroke-width="1.1"/>
<path d="M234.9 755.4 L324.3 755.4 L335.7 761.6 L368.6 761.6" fill="none" stroke="#000" stroke-width="1.1" />
<line x1="368.6" y1="760.6" x2="487.5" y2="760.6" stroke="#000" stroke-width="1.1"/>
<line x1="304.6" y1="627.1" x2="304.6" y2="656.8" stroke="#000" stroke-width="1.1"/>
<line x1="304.6" y1="726" x2="304.6" y2="787.5" stroke="#000" stroke-width="1.1"/>
<line x1="324.3" y1="627.1" x2="324.3" y2="755.4" stroke="#000" stroke-width="1.1"/>
<line x1="335.7" y1="621" x2="335.7" y2="761.6" stroke="#000" stroke-width="1.1"/>
<line x1="368.6" y1="621" x2="368.6" y2="761.6" stroke="#000" stroke-width="1.1"/>
<line x1="381.4" y1="622" x2="381.4" y2="789.5" stroke="#000" stroke-width="1.1"/>
<line x1="425.3" y1="622" x2="425.3" y2="789.5" stroke="#000" stroke-width="1.1"/>
<line x1="441.4" y1="622" x2="441.4" y2="760.6" stroke="#000" stroke-width="2"/>
<line x1="237.1" y1="656.8" x2="257.2" y2="656.8" stroke="#000" stroke-width="1.1"/>
<line x1="284" y1="656.8" x2="304.6" y2="656.8" stroke="#000" stroke-width="1.1"/>
<line x1="259.5" y1="656.8" x2="282" y2="656.8" stroke="#000" stroke-width="0.9" stroke-dasharray="4.5 3"/>
<line x1="237.1" y1="726" x2="304.6" y2="726" stroke="#000" stroke-width="1.1"/>
<circle cx="270.6" cy="656.8" r="13.3" fill="none" stroke="#111" stroke-width="1.6"/>
<circle cx="270.6" cy="726" r="13.3" fill="none" stroke="#111" stroke-width="1.8"/>
<circle cx="270.6" cy="726" r="6.8" fill="none" stroke="#000" stroke-width="0.9"/>
<line x1="270.6" y1="636.5" x2="270.6" y2="652" stroke="#000" stroke-width="0.9"/>
<line x1="270.6" y1="654.5" x2="270.6" y2="659.5" stroke="#000" stroke-width="0.9"/>
<line x1="270.6" y1="662" x2="270.6" y2="667" stroke="#000" stroke-width="0.9"/>
<line x1="270.6" y1="671.5" x2="270.6" y2="706" stroke="#000" stroke-width="0.9"/>
<line x1="270.6" y1="712" x2="270.6" y2="808.8" stroke="#000" stroke-width="0.9"/>
<line x1="127.5" y1="691.5" x2="160" y2="691.5" stroke="#000" stroke-width="0.9"/>
<line x1="167.5" y1="691.5" x2="172.5" y2="691.5" stroke="#000" stroke-width="0.9"/>
<line x1="179" y1="691.5" x2="210" y2="691.5" stroke="#000" stroke-width="0.9"/>
<line x1="227" y1="691.5" x2="270" y2="691.5" stroke="#000" stroke-width="0.9"/>
<line x1="320" y1="691.5" x2="335" y2="691.5" stroke="#000" stroke-width="0.9"/>
<line x1="342.5" y1="691.5" x2="380" y2="691.5" stroke="#000" stroke-width="0.9"/>
<line x1="385" y1="691.5" x2="390" y2="691.5" stroke="#000" stroke-width="0.9"/>
<line x1="395" y1="691.5" x2="458" y2="691.5" stroke="#000" stroke-width="0.9"/>
<text x="236.6" y="587.2" font-size="12.5" textLength="24.8" lengthAdjust="spacingAndGlyphs" stroke="#000" stroke-width="0.22">Port B</text>
<path d="M240.8 588.7 L253.4 588.7 L270.3 646.5" fill="none" stroke="#000" stroke-width="0.9" />
<text x="154.9" y="609.2" font-size="12.5" textLength="25.1" lengthAdjust="spacingAndGlyphs" stroke="#000" stroke-width="0.22">Port A</text>
<path d="M159.1 610.9 L172.9 610.9 L266 719" fill="none" stroke="#000" stroke-width="0.9" />
<line x1="206.6" y1="612.9" x2="206.6" y2="628.6" stroke="#000" stroke-width="1.1"/>
<line x1="234.9" y1="612.9" x2="234.9" y2="628.6" stroke="#000" stroke-width="1.1"/>
<line x1="206.6" y1="617.1" x2="234.9" y2="617.1" stroke="#000" stroke-width="1.1"/>
<path d="M206.6 617.1 L214.6 615.6 L214.6 618.6 Z" fill="#000" stroke="#000" stroke-width="0.3"/>
<path d="M234.9 617.1 L226.9 618.6 L226.9 615.6 Z" fill="#000" stroke="#000" stroke-width="0.3"/>
<text x="212.2" y="614.8" font-size="12.2" textLength="16.4" lengthAdjust="spacingAndGlyphs" stroke="#000" stroke-width="0.22">19.2</text>
<line x1="290.5" y1="656.8" x2="290.5" y2="726" stroke="#000" stroke-width="1.1"/>
<path d="M290.5 656.8 L292 664.8 L289 664.8 Z" fill="#000" stroke="#000" stroke-width="0.3"/>
<path d="M290.5 726 L289 718 L292 718 Z" fill="#000" stroke="#000" stroke-width="0.3"/>
<text x="289.6" y="707.5" font-size="12.2" textLength="34.5" lengthAdjust="spacingAndGlyphs" transform="rotate(-90 289.6 707.5)" stroke="#000" stroke-width="0.22">45.7±0.2</text>
<line x1="206.6" y1="753.6" x2="206.6" y2="820.5" stroke="#000" stroke-width="1.1"/>
<line x1="175" y1="772.3" x2="221.4" y2="772.3" stroke="#000" stroke-width="1.1"/>
<path d="M202.9 772.3 L194.9 773.8 L194.9 770.8 Z" fill="#000" stroke="#000" stroke-width="0.3"/>
<path d="M206.6 772.3 L214.6 770.8 L214.6 773.8 Z" fill="#000" stroke="#000" stroke-width="0.3"/>
<text x="178.6" y="770.7" font-size="12.2" textLength="11.4" lengthAdjust="spacingAndGlyphs" stroke="#000" stroke-width="0.22">2.8</text>
<line x1="237.1" y1="755.4" x2="237.1" y2="787.5" stroke="#000" stroke-width="1.1"/>
<line x1="237.1" y1="782.9" x2="304.6" y2="782.9" stroke="#000" stroke-width="1.1"/>
<path d="M237.1 782.9 L245.1 781.4 L245.1 784.4 Z" fill="#000" stroke="#000" stroke-width="0.3"/>
<path d="M304.6 782.9 L296.6 784.4 L296.6 781.4 Z" fill="#000" stroke="#000" stroke-width="0.3"/>
<text x="266.3" y="781.7" font-size="12.2" textLength="10" lengthAdjust="spacingAndGlyphs" stroke="#000" stroke-width="0.22">43</text>
<line x1="206.6" y1="804.3" x2="270.6" y2="804.3" stroke="#000" stroke-width="1.1"/>
<path d="M206.6 804.3 L214.6 802.8 L214.6 805.8 Z" fill="#000" stroke="#000" stroke-width="0.3"/>
<path d="M270.6 804.3 L262.6 805.8 L262.6 802.8 Z" fill="#000" stroke="#000" stroke-width="0.3"/>
<text x="224.3" y="803.2" font-size="12.2" textLength="35.7" lengthAdjust="spacingAndGlyphs" stroke="#000" stroke-width="0.22">42.7±0.2</text>
<line x1="206.6" y1="814.3" x2="454.8" y2="814.3" stroke="#000" stroke-width="1.1"/>
<path d="M206.6 814.3 L214.6 812.8 L214.6 815.8 Z" fill="#000" stroke="#000" stroke-width="0.3"/>
<path d="M454.8 814.3 L446.8 815.8 L446.8 812.8 Z" fill="#000" stroke="#000" stroke-width="0.3"/>
<line x1="454.8" y1="722" x2="454.8" y2="817.5" stroke="#000" stroke-width="1.1"/>
<text x="317.7" y="813.2" font-size="12.2" textLength="8.4" lengthAdjust="spacingAndGlyphs" stroke="#000" stroke-width="0.22">L1</text>
<text x="326.8" y="814.5" font-size="14" textLength="3" lengthAdjust="spacingAndGlyphs" stroke="#000" stroke-width="0.22">(</text>
<path d="M332.98 806.1 L331.85 807.4 L334.12 807.25 M333.61 806.53 L334.54 807.68 M330.66 808.55 L335.31 808.55 M333.09 807.54 L331.95 809.7 L330.4 810.85 M333.09 808.55 L334.43 809.99 L335.57 810.56 M333.61 809.56 L332.16 810.71 M334.02 810.56 L331.95 812 M334.54 811.43 L331.43 813.3" fill="none" stroke="#000" stroke-width="1.05" stroke-linecap="round" stroke-linejoin="round"/>
<path d="M337.26 807.25 L339.95 807.25 M338.61 806.1 L338.61 808.55 M336.33 808.55 L341.3 808.55 M340.68 806.39 L338.09 809.84 L336.33 811.14 M338.09 809.84 L340.57 809.84 M338.3 809.84 L338.09 811.14 L340.57 811.14 L340.37 813.16 L339.33 812.72" fill="none" stroke="#000" stroke-width="1.05" stroke-linecap="round" stroke-linejoin="round"/>
<text x="342" y="814.5" font-size="14" textLength="3" lengthAdjust="spacingAndGlyphs" stroke="#000" stroke-width="0.22">)</text>
<line x1="381.4" y1="785.7" x2="425.3" y2="785.7" stroke="#000" stroke-width="1.1"/>
<path d="M381.4 785.7 L389.4 784.2 L389.4 787.2 Z" fill="#000" stroke="#000" stroke-width="0.3"/>
<path d="M425.3 785.7 L417.3 787.2 L417.3 784.2 Z" fill="#000" stroke="#000" stroke-width="0.3"/>
<text x="400.7" y="784.5" font-size="12.2" textLength="5.8" lengthAdjust="spacingAndGlyphs" stroke="#000" stroke-width="0.22">H</text>
<line x1="482.6" y1="622" x2="482.6" y2="760.6" stroke="#000" stroke-width="1.1"/>
<path d="M482.6 622 L484.1 630 L481.1 630 Z" fill="#000" stroke="#000" stroke-width="0.3"/>
<path d="M482.6 760.6 L481.1 752.6 L484.1 752.6 Z" fill="#000" stroke="#000" stroke-width="0.3"/>
<text x="481.2" y="697.8" font-size="12" textLength="15.2" lengthAdjust="spacingAndGlyphs" transform="rotate(-90 481.2 697.8)" stroke="#000" stroke-width="0.3">Ø92</text>
<path d="M443.82 571.35 L447.18 571.35 M445.5 571.35 L445.5 578" fill="none" stroke="#000" stroke-width="1.1" stroke-linecap="round" stroke-linejoin="round"/>
<path d="M449.88 571 L449.48 573.45 L448.39 575.34 M449.63 572.54 L450.98 572.54 L450.38 575.34 L448.89 578 M449.29 574.15 L450.28 575.2 M451.88 571 L451.88 578 M451.88 573.8 L453.38 575.06" fill="none" stroke="#000" stroke-width="1" stroke-linecap="round" stroke-linejoin="round"/>
<path d="M454.15 571.56 L454.8 572.4 M453.9 573.66 L454.6 574.36 M454 578 L454.9 575.62 M455.4 573.1 L458.89 573.1 M456.19 571.35 L456.19 575.34 M457.19 571 L457.19 575.34 M458.19 571.35 L458.19 575.34 M456.19 575.34 L458.19 575.34 M455.4 571.7 L455.4 577.65 L458.89 577.65" fill="none" stroke="#000" stroke-width="0.9" stroke-linecap="round" stroke-linejoin="round"/>
<path d="M459.79 571.56 L463.76 571.56 L463.76 577.65 L459.79 577.65 L459.79 571.56" fill="none" stroke="#000" stroke-width="1.1" stroke-linecap="round" stroke-linejoin="round"/>
<line x1="434.3" y1="584.3" x2="490" y2="584.3" stroke="#000" stroke-width="1.1"/>
<line x1="434.3" y1="584.3" x2="438.1" y2="683.3" stroke="#000" stroke-width="1.1"/>
<text x="437.1" y="594.2" font-size="11.8" textLength="49.5" lengthAdjust="spacingAndGlyphs" stroke="#000" stroke-width="0.22">Drain Port T</text>
<path d="M442.4 632.3 L445.3 632.3 L445.3 750.4 L442.4 750.4" fill="none" stroke="#000" stroke-width="1.1" />
<path d="M445.5 635.9 L453 635.9 Q454.4 635.9 454.4 637.4 L454.4 653.7 Q454.4 655.2 453 655.2 L445.5 655.2 Z" fill="none" stroke="#000" stroke-width="1.2" />
<line x1="445.5" y1="642" x2="454.4" y2="642" stroke="#1a1a1a" stroke-width="1.5"/>
<line x1="445.5" y1="649.6" x2="454.4" y2="649.6" stroke="#1a1a1a" stroke-width="1.5"/>
<path d="M445.5 661.6 L453 661.6 Q454.4 661.6 454.4 663.1 L454.4 719.7 Q454.4 721.2 453 721.2 L445.5 721.2 Z" fill="none" stroke="#000" stroke-width="1.2" />
<line x1="445.5" y1="666.7" x2="454.4" y2="666.7" stroke="#1a1a1a" stroke-width="1.5"/>
<line x1="445.5" y1="671.5" x2="454.4" y2="671.5" stroke="#1a1a1a" stroke-width="1.5"/>
<line x1="445.5" y1="676.6" x2="454.4" y2="676.6" stroke="#1a1a1a" stroke-width="1.5"/>
<line x1="445.5" y1="681.7" x2="454.4" y2="681.7" stroke="#1a1a1a" stroke-width="1.5"/>
<line x1="445.5" y1="686.8" x2="454.4" y2="686.8" stroke="#1a1a1a" stroke-width="1.5"/>
<line x1="445.5" y1="691.4" x2="454.4" y2="691.4" stroke="#1a1a1a" stroke-width="1.5"/>
<line x1="445.5" y1="696" x2="454.4" y2="696" stroke="#1a1a1a" stroke-width="1.5"/>
<line x1="445.5" y1="701.1" x2="454.4" y2="701.1" stroke="#1a1a1a" stroke-width="1.5"/>
<line x1="445.5" y1="706.2" x2="454.4" y2="706.2" stroke="#1a1a1a" stroke-width="1.5"/>
<line x1="445.5" y1="711.3" x2="454.4" y2="711.3" stroke="#1a1a1a" stroke-width="1.5"/>
<line x1="445.5" y1="716.1" x2="454.4" y2="716.1" stroke="#1a1a1a" stroke-width="1.5"/>
<path d="M445.5 727.6 L453 727.6 Q454.4 727.6 454.4 729.1 L454.4 745.4 Q454.4 746.9 453 746.9 L445.5 746.9 Z" fill="none" stroke="#000" stroke-width="1.2" />
<line x1="445.5" y1="733.2" x2="454.4" y2="733.2" stroke="#1a1a1a" stroke-width="1.5"/>
<line x1="445.5" y1="740.8" x2="454.4" y2="740.8" stroke="#1a1a1a" stroke-width="1.5"/>
<path d="M454.4 674.2 L456.4 674.2 Q458.4 674.2 458.4 676.6 L458.4 706.2 Q458.4 708.6 456.4 708.6 L454.4 708.6" fill="none" stroke="#000" stroke-width="1" />
<path d="M425.3 679.9 L428.2 678.2 L440.4 675.5" fill="none" stroke="#000" stroke-width="1" />
<path d="M425.3 702.9 L428.2 704.6 L440.4 707.3" fill="none" stroke="#000" stroke-width="1" />
<line x1="425.3" y1="680.8" x2="440.4" y2="680.8" stroke="#000" stroke-width="0.9"/>
<line x1="425.3" y1="702" x2="440.4" y2="702" stroke="#000" stroke-width="0.9"/>
<line x1="426.9" y1="680.8" x2="426.9" y2="702" stroke="#000" stroke-width="0.9"/>
<line x1="437.7" y1="676.2" x2="437.7" y2="706.6" stroke="#000" stroke-width="0.9"/>
<line x1="428.5" y1="680.5" x2="431" y2="677.8" stroke="#000" stroke-width="0.7"/>
<line x1="428.5" y1="702.3" x2="431" y2="705" stroke="#000" stroke-width="0.7"/>
<line x1="433" y1="680.5" x2="435.5" y2="677.8" stroke="#000" stroke-width="0.7"/>
<line x1="433" y1="702.3" x2="435.5" y2="705" stroke="#000" stroke-width="0.7"/>
<line x1="70.9" y1="846" x2="662.8" y2="846" stroke="#000" stroke-width="1.1"/>
<line x1="70.9" y1="864.5" x2="662.8" y2="864.5" stroke="#000" stroke-width="1.1"/>
<line x1="70.9" y1="882.9" x2="662.8" y2="882.9" stroke="#000" stroke-width="1.1"/>
<line x1="70.9" y1="901.4" x2="662.8" y2="901.4" stroke="#000" stroke-width="1.1"/>
<line x1="70.9" y1="919.8" x2="662.8" y2="919.8" stroke="#000" stroke-width="1.1"/>
<line x1="70.9" y1="846" x2="70.9" y2="919.8" stroke="#000" stroke-width="1.1"/>
<line x1="149.1" y1="846" x2="149.1" y2="919.8" stroke="#000" stroke-width="1.1"/>
<line x1="195.8" y1="846" x2="195.8" y2="919.8" stroke="#000" stroke-width="1.1"/>
<line x1="242.5" y1="846" x2="242.5" y2="919.8" stroke="#000" stroke-width="1.1"/>
<line x1="289.2" y1="846" x2="289.2" y2="919.8" stroke="#000" stroke-width="1.1"/>
<line x1="335.9" y1="846" x2="335.9" y2="919.8" stroke="#000" stroke-width="1.1"/>
<line x1="382.6" y1="846" x2="382.6" y2="919.8" stroke="#000" stroke-width="1.1"/>
<line x1="429.3" y1="846" x2="429.3" y2="919.8" stroke="#000" stroke-width="1.1"/>
<line x1="476" y1="846" x2="476" y2="919.8" stroke="#000" stroke-width="1.1"/>
<line x1="522.7" y1="846" x2="522.7" y2="919.8" stroke="#000" stroke-width="1.1"/>
<line x1="569.4" y1="846" x2="569.4" y2="919.8" stroke="#000" stroke-width="1.1"/>
<line x1="616.1" y1="846" x2="616.1" y2="919.8" stroke="#000" stroke-width="1.1"/>
<line x1="662.8" y1="846" x2="662.8" y2="919.8" stroke="#000" stroke-width="1.1"/>
<text x="159" y="860.5" font-size="13.8" textLength="11.3" lengthAdjust="spacingAndGlyphs" stroke="#000" stroke-width="0.1">50</text>
<text x="205.7" y="860.5" font-size="13.8" textLength="11.3" lengthAdjust="spacingAndGlyphs" stroke="#000" stroke-width="0.1">63</text>
<text x="252.4" y="860.5" font-size="13.8" textLength="11.3" lengthAdjust="spacingAndGlyphs" stroke="#000" stroke-width="0.1">80</text>
<text x="299.1" y="860.5" font-size="13.8" textLength="17.3" lengthAdjust="spacingAndGlyphs" stroke="#000" stroke-width="0.1">100</text>
<text x="345.8" y="860.5" font-size="13.8" textLength="17.3" lengthAdjust="spacingAndGlyphs" stroke="#000" stroke-width="0.1">125</text>
<text x="392.5" y="860.5" font-size="13.8" textLength="17.3" lengthAdjust="spacingAndGlyphs" stroke="#000" stroke-width="0.1">160</text>
<text x="439.2" y="860.5" font-size="13.8" textLength="17.3" lengthAdjust="spacingAndGlyphs" stroke="#000" stroke-width="0.1">200</text>
<text x="485.9" y="860.5" font-size="13.8" textLength="17.3" lengthAdjust="spacingAndGlyphs" stroke="#000" stroke-width="0.1">250</text>
<text x="532.6" y="860.5" font-size="13.8" textLength="17.3" lengthAdjust="spacingAndGlyphs" stroke="#000" stroke-width="0.1">315</text>
<text x="579.3" y="860.5" font-size="13.8" textLength="17.3" lengthAdjust="spacingAndGlyphs" stroke="#000" stroke-width="0.1">400</text>
<text x="626" y="860.5" font-size="13.8" textLength="17.3" lengthAdjust="spacingAndGlyphs" stroke="#000" stroke-width="0.1">500</text>
<text x="159" y="879" font-size="13.8" textLength="5.3" lengthAdjust="spacingAndGlyphs" stroke="#000" stroke-width="0.1">9</text>
<text x="205.7" y="879" font-size="13.8" textLength="20.5" lengthAdjust="spacingAndGlyphs" stroke="#000" stroke-width="0.1">11.5</text>
<text x="252.4" y="879" font-size="13.8" textLength="20.5" lengthAdjust="spacingAndGlyphs" stroke="#000" stroke-width="0.1">14.5</text>
<text x="299.1" y="879" font-size="13.8" textLength="20.5" lengthAdjust="spacingAndGlyphs" stroke="#000" stroke-width="0.1">17.8</text>
<text x="345.8" y="879" font-size="13.8" textLength="11.3" lengthAdjust="spacingAndGlyphs" stroke="#000" stroke-width="0.1">23</text>
<text x="392.5" y="879" font-size="13.8" textLength="11.3" lengthAdjust="spacingAndGlyphs" stroke="#000" stroke-width="0.1">29</text>
<text x="439.2" y="879" font-size="13.8" textLength="11.3" lengthAdjust="spacingAndGlyphs" stroke="#000" stroke-width="0.1">37</text>
<text x="485.9" y="879" font-size="13.8" textLength="11.3" lengthAdjust="spacingAndGlyphs" stroke="#000" stroke-width="0.1">46</text>
<text x="532.6" y="879" font-size="13.8" textLength="11.3" lengthAdjust="spacingAndGlyphs" stroke="#000" stroke-width="0.1">57</text>
<text x="579.3" y="879" font-size="13.8" textLength="11.3" lengthAdjust="spacingAndGlyphs" stroke="#000" stroke-width="0.1">72</text>
<text x="626" y="879" font-size="13.8" textLength="11.3" lengthAdjust="spacingAndGlyphs" stroke="#000" stroke-width="0.1">90</text>
<text x="159" y="897.4" font-size="13.8" textLength="17.3" lengthAdjust="spacingAndGlyphs" stroke="#000" stroke-width="0.1">148</text>
<text x="205.7" y="897.4" font-size="13.8" textLength="26.5" lengthAdjust="spacingAndGlyphs" stroke="#000" stroke-width="0.1">150.5</text>
<text x="252.4" y="897.4" font-size="13.8" textLength="26.5" lengthAdjust="spacingAndGlyphs" stroke="#000" stroke-width="0.1">153.5</text>
<text x="299.1" y="897.4" font-size="13.8" textLength="26.5" lengthAdjust="spacingAndGlyphs" stroke="#000" stroke-width="0.1">156.8</text>
<text x="345.8" y="897.4" font-size="13.8" textLength="17.3" lengthAdjust="spacingAndGlyphs" stroke="#000" stroke-width="0.1">162</text>
<text x="392.5" y="897.4" font-size="13.8" textLength="17.3" lengthAdjust="spacingAndGlyphs" stroke="#000" stroke-width="0.1">168</text>
<text x="439.2" y="897.4" font-size="13.8" textLength="17.3" lengthAdjust="spacingAndGlyphs" stroke="#000" stroke-width="0.1">176</text>
<text x="485.9" y="897.4" font-size="13.8" textLength="17.3" lengthAdjust="spacingAndGlyphs" stroke="#000" stroke-width="0.1">185</text>
<text x="532.6" y="897.4" font-size="13.8" textLength="17.3" lengthAdjust="spacingAndGlyphs" stroke="#000" stroke-width="0.1">196</text>
<text x="579.3" y="897.4" font-size="13.8" textLength="17.3" lengthAdjust="spacingAndGlyphs" stroke="#000" stroke-width="0.1">211</text>
<text x="626" y="897.4" font-size="13.8" textLength="17.3" lengthAdjust="spacingAndGlyphs" stroke="#000" stroke-width="0.1">229</text>
<text x="159" y="915.9" font-size="13.8" textLength="17.3" lengthAdjust="spacingAndGlyphs" stroke="#000" stroke-width="0.1">150</text>
<text x="205.7" y="915.9" font-size="13.8" textLength="26.5" lengthAdjust="spacingAndGlyphs" stroke="#000" stroke-width="0.1">152.5</text>
<text x="252.4" y="915.9" font-size="13.8" textLength="26.5" lengthAdjust="spacingAndGlyphs" stroke="#000" stroke-width="0.1">155.5</text>
<text x="299.1" y="915.9" font-size="13.8" textLength="17.3" lengthAdjust="spacingAndGlyphs" stroke="#000" stroke-width="0.1">159</text>
<text x="345.8" y="915.9" font-size="13.8" textLength="17.3" lengthAdjust="spacingAndGlyphs" stroke="#000" stroke-width="0.1">164</text>
<text x="392.5" y="915.9" font-size="13.8" textLength="17.3" lengthAdjust="spacingAndGlyphs" stroke="#000" stroke-width="0.1">170</text>
<text x="439.2" y="915.9" font-size="13.8" textLength="17.3" lengthAdjust="spacingAndGlyphs" stroke="#000" stroke-width="0.1">178</text>
<text x="485.9" y="915.9" font-size="13.8" textLength="17.3" lengthAdjust="spacingAndGlyphs" stroke="#000" stroke-width="0.1">187</text>
<text x="532.6" y="915.9" font-size="13.8" textLength="17.3" lengthAdjust="spacingAndGlyphs" stroke="#000" stroke-width="0.1">198</text>
<text x="579.3" y="915.9" font-size="13.8" textLength="17.3" lengthAdjust="spacingAndGlyphs" stroke="#000" stroke-width="0.1">213</text>
<text x="626" y="915.9" font-size="13.8" textLength="17.3" lengthAdjust="spacingAndGlyphs" stroke="#000" stroke-width="0.1">231</text>
<path d="M93.65 852 L93.65 860.8 M92.2 854.46 L94.97 854.46 M92.2 858.16 L94.97 856.84 M96.29 852 L96.29 860.8 M97.88 852 L97.88 860.8 M95.37 853.94 L98.8 853.94 M95.37 856.4 L98.8 856.4 M95.37 858.86 L98.8 858.86" fill="none" stroke="#000" stroke-width="1.25" stroke-linecap="round" stroke-linejoin="round"/>
<path d="M100.59 852 L105.21 852 L105.21 854.64 L100.59 854.64 L100.59 852 M99.6 855.7 L106.2 855.7 M100.59 856.84 L105.21 856.84 L105.21 859.04 L100.59 859.04 L100.59 856.84 M102.9 856.84 L102.9 860.8 M99.6 860.8 L106.2 860.8 M100.59 857.98 L105.21 857.98" fill="none" stroke="#000" stroke-width="1.25" stroke-linecap="round" stroke-linejoin="round"/>
<text x="99.1" y="879" font-size="13.8" textLength="6.2" lengthAdjust="spacingAndGlyphs" stroke="#000" stroke-width="0.22">H</text>
<text x="99.1" y="897.4" font-size="13.8" textLength="4.8" lengthAdjust="spacingAndGlyphs" stroke="#000" stroke-width="0.22">L</text>
<text x="99.1" y="915.9" font-size="13.8" textLength="8.4" lengthAdjust="spacingAndGlyphs" stroke="#000" stroke-width="0.22">L1</text>
<path d="M13.15 952.58 L17.59 952.58 M13.15 952.58 L13.15 956.38 L17.59 956.38 L17.59 952.58 M15.38 954.48 L15.38 959.8 M12.6 958.28 L18.15 958.28" fill="none" stroke="#000" stroke-width="1.25" stroke-linecap="round" stroke-linejoin="round"/>
<path d="M21.11 952.2 L20 955.24 M20.56 954.1 L20.56 959.8 M21.95 953.72 L25 953.72 M23.45 952.2 L23.45 956.76 M23.45 956.76 L21.95 959.8 M23.45 956.76 L25 959.8" fill="none" stroke="#000" stroke-width="1.25" stroke-linecap="round" stroke-linejoin="round"/>
<path d="M27.69 952.2 L27.69 959.8 M26.3 954.48 L28.8 954.48 M29.35 953.34 L31.85 953.34 M30.46 953.34 L30.46 959.8 M29.35 956.38 L31.85 956.38" fill="none" stroke="#000" stroke-width="1.25" stroke-linecap="round" stroke-linejoin="round"/>
<path d="M33.15 953.34 L34.81 954.48 M33.15 956 L34.54 956.76 M33.43 959.8 L34.81 957.52 M35.65 952.96 L38.7 952.96 M37.03 952.96 L37.03 959.42 M35.65 956 L38.7 956 M35.37 959.42 L38.7 959.42" fill="none" stroke="#000" stroke-width="1.25" stroke-linecap="round" stroke-linejoin="round"/>
<path d="M40.28 953.72 L45.27 953.72 M42.77 952.2 L42.77 959.8 M40.55 956.76 L44.99 956.76 M40.83 959.42 L44.72 959.42" fill="none" stroke="#000" stroke-width="1.25" stroke-linecap="round" stroke-linejoin="round"/>
<path d="M47.41 952.96 L51.84 952.96 L51.84 959.04 L47.41 959.04 L47.41 952.96 M47.41 956 L51.84 956 M49.62 952.96 L49.62 959.04" fill="none" stroke="#000" stroke-width="1.25" stroke-linecap="round" stroke-linejoin="round"/>
<circle cx="54.9" cy="955" r="0.6" fill="#000" stroke="#000" stroke-width="0.6"/>
<circle cx="54.9" cy="958.9" r="0.6" fill="#000" stroke="#000" stroke-width="0.6"/>
<path d="M42.04 971.2 L46.38 971.2 L46.38 977.6 L42.04 977.6 L42.04 971.2 M42.04 974.4 L46.38 974.4 M44.21 971.2 L44.21 977.6" fill="none" stroke="#000" stroke-width="1.25" stroke-linecap="round" stroke-linejoin="round"/>
<path d="M49.57 970.4 L49.57 978.4 M48.22 972.8 L50.66 972.8 M51.2 971.6 L53.64 971.6 M52.28 971.6 L52.28 978.4 M51.2 974.8 L53.64 974.8" fill="none" stroke="#000" stroke-width="1.25" stroke-linecap="round" stroke-linejoin="round"/>
<path d="M54.94 971.6 L56.57 972.8 M54.94 974.4 L56.29 975.2 M55.21 978.4 L56.57 976 M57.38 971.2 L60.36 971.2 M58.73 971.2 L58.73 978 M57.38 974.4 L60.36 974.4 M57.11 978 L60.36 978" fill="none" stroke="#000" stroke-width="1.25" stroke-linecap="round" stroke-linejoin="round"/>
<path d="M61.93 972 L66.81 972 M64.37 970.4 L64.37 978.4 M62.2 975.2 L66.54 975.2 M62.47 978 L66.27 978" fill="none" stroke="#000" stroke-width="1.25" stroke-linecap="round" stroke-linejoin="round"/>
<path d="M69.74 970.4 L69.74 978.4 M68.38 972.8 L70.82 972.8 M71.36 971.6 L73.8 971.6 M72.45 971.6 L72.45 978.4 M71.36 974.8 L73.8 974.8" fill="none" stroke="#000" stroke-width="1.25" stroke-linecap="round" stroke-linejoin="round"/>
<path d="M76.46 970.4 L76.46 978.4 M75.1 972.8 L77.54 972.8 M78.08 971.6 L80.52 971.6 M79.17 971.6 L79.17 978.4 M78.08 974.8 L80.52 974.8" fill="none" stroke="#000" stroke-width="1.25" stroke-linecap="round" stroke-linejoin="round"/>
<path d="M83.45 970.4 L82.36 973.6 M82.9 972.4 L82.9 978.4 M84.26 972 L87.24 972 M85.72 970.4 L85.72 975.2 M85.72 975.2 L84.26 978.4 M85.72 975.2 L87.24 978.4" fill="none" stroke="#000" stroke-width="1.25" stroke-linecap="round" stroke-linejoin="round"/>
<path d="M89.0 977.6 l0.5 2.0" fill="none" stroke="#000" stroke-width="1.2" />
<text x="92.9" y="978.6" font-size="10" textLength="6" lengthAdjust="spacingAndGlyphs" font-weight="bold">A</text>
<path d="M100.6 971.6 L102.34 972.8 M100.6 974.4 L102.05 975.2 M100.89 978.4 L102.34 976 M103.21 971.2 L106.4 971.2 M104.66 971.2 L104.66 978 M103.21 974.4 L106.4 974.4 M102.92 978 L106.4 978" fill="none" stroke="#000" stroke-width="1.25" stroke-linecap="round" stroke-linejoin="round"/>
<path d="M109.05 971.22 L113.75 971.22 L113.75 978.01 L109.05 978.01 L109.05 971.22" fill="none" stroke="#000" stroke-width="1" stroke-linecap="round" stroke-linejoin="round"/>
<path d="M116.54 970.4 L115.38 973.6 M115.96 972.4 L115.96 978.4 M117.41 972 L120.6 972 M118.98 970.4 L118.98 975.2 M118.98 975.2 L117.41 978.4 M118.98 975.2 L120.6 978.4" fill="none" stroke="#000" stroke-width="1.25" stroke-linecap="round" stroke-linejoin="round"/>
<path d="M121.9 971.6 L123.64 972.8 M121.9 974.4 L123.35 975.2 M122.19 978.4 L123.64 976 M124.51 971.2 L127.7 971.2 M125.96 971.2 L125.96 978 M124.51 974.4 L127.7 974.4 M124.22 978 L127.7 978" fill="none" stroke="#000" stroke-width="1.25" stroke-linecap="round" stroke-linejoin="round"/>
<path d="M129.6 977.6 l0.5 2.0" fill="none" stroke="#000" stroke-width="1.2" />
<path d="M135.65 970.8 L140.05 970.8 M135.65 970.8 L135.65 974.8 L140.05 974.8 L140.05 970.8 M137.85 972.8 L137.85 978.4 M135.1 976.8 L140.6 976.8" fill="none" stroke="#000" stroke-width="1.25" stroke-linecap="round" stroke-linejoin="round"/>
<path d="M143.55 970.4 L142.45 973.6 M143 972.4 L143 978.4 M144.38 972 L147.4 972 M145.86 970.4 L145.86 975.2 M145.86 975.2 L144.38 978.4 M145.86 975.2 L147.4 978.4" fill="none" stroke="#000" stroke-width="1.25" stroke-linecap="round" stroke-linejoin="round"/>
<path d="M148.97 972 L153.92 972 M151.45 970.4 L151.45 978.4 M149.25 975.2 L153.65 975.2 M149.52 978 L153.38 978" fill="none" stroke="#000" stroke-width="1.25" stroke-linecap="round" stroke-linejoin="round"/>
<path d="M156.05 971.2 L160.45 971.2 L160.45 977.6 L156.05 977.6 L156.05 971.2 M156.05 974.4 L160.45 974.4 M158.25 971.2 L158.25 977.6" fill="none" stroke="#000" stroke-width="1.25" stroke-linecap="round" stroke-linejoin="round"/>
<path d="M163.67 970.4 L163.67 978.4 M162.3 972.8 L164.77 972.8 M165.32 971.6 L167.8 971.6 M166.42 971.6 L166.42 978.4 M165.32 974.8 L167.8 974.8" fill="none" stroke="#000" stroke-width="1.25" stroke-linecap="round" stroke-linejoin="round"/>
<path d="M169.1 971.6 L170.75 972.8 M169.1 974.4 L170.47 975.2 M169.38 978.4 L170.75 976 M171.57 971.2 L174.6 971.2 M172.95 971.2 L172.95 978 M171.57 974.4 L174.6 974.4 M171.3 978 L174.6 978" fill="none" stroke="#000" stroke-width="1.25" stroke-linecap="round" stroke-linejoin="round"/>
<path d="M177.55 970.4 L176.45 973.6 M177 972.4 L177 978.4 M178.38 972 L181.4 972 M179.86 970.4 L179.86 975.2 M179.86 975.2 L178.38 978.4 M179.86 975.2 L181.4 978.4" fill="none" stroke="#000" stroke-width="1.25" stroke-linecap="round" stroke-linejoin="round"/>
<circle cx="185.4" cy="978.3" r="0.7" fill="#000" stroke="#000" stroke-width="0.6"/>
</svg>
</body></html>
